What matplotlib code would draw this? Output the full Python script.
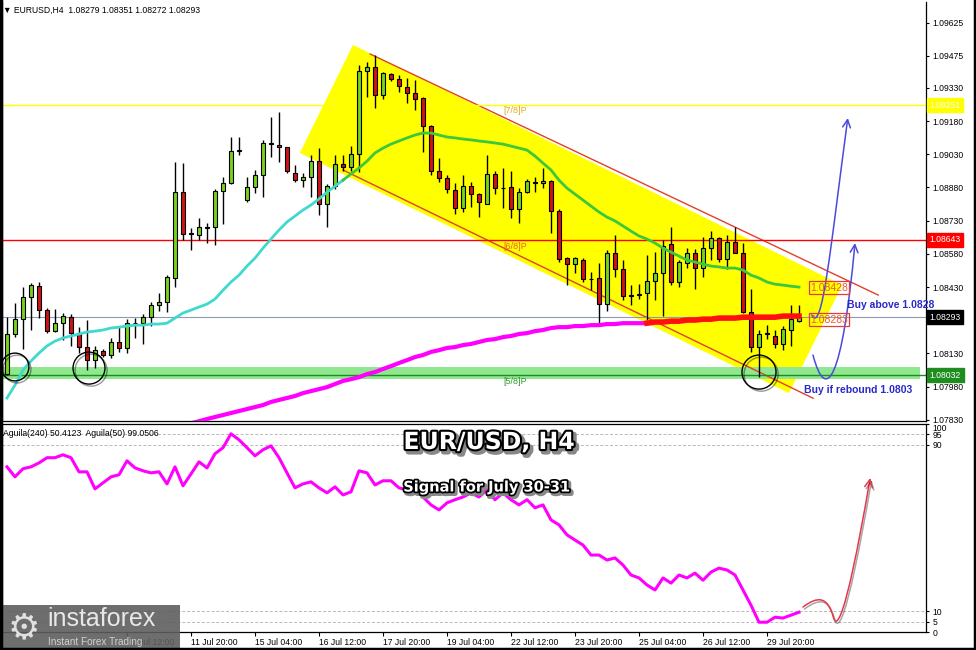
import matplotlib
matplotlib.use("Agg")
import matplotlib.pyplot as plt
import matplotlib.patheffects as pe
import matplotlib.transforms as mtransforms
from matplotlib.patches import Polygon, Rectangle, FancyArrowPatch
from matplotlib.path import Path
import numpy as np

plt.rcParams['font.family'] = ['Liberation Sans', 'DejaVu Sans']

# EURUSD H4 candles, 8 Jul 00:00 .. 30 Jul 12:00
opens = [1.08037, 1.08218, 1.08285, 1.08385, 1.08434, 1.08326, 1.08231, 1.08267, 1.08294, 1.08222,
         1.08159, 1.08100, 1.08141, 1.08123, 1.08182, 1.08155, 1.08267, 1.08267, 1.08294, 1.08349,
         1.08362, 1.08471, 1.08859, 1.08674, 1.08665, 1.08697, 1.08701, 1.08864, 1.08900, 1.09044,
         1.08823, 1.08882, 1.08936, 1.09081, 1.09072, 1.09063, 1.08945, 1.08913, 1.08927, 1.08999,
         1.08805, 1.08886, 1.08986, 1.08972, 1.09031, 1.09406, 1.09424, 1.09298, 1.09393, 1.09370,
         1.09334, 1.09307, 1.09284, 1.09157, 1.08954, 1.08922, 1.08868, 1.08787, 1.08886, 1.08850,
         1.08805, 1.08941, 1.08877, 1.08882, 1.08782, 1.08859, 1.08904, 1.08900, 1.08909, 1.08773,
         1.08561, 1.08534, 1.08552, 1.08466, 1.08471, 1.08353, 1.08584, 1.08511, 1.08389, 1.08392,
         1.08403, 1.08457, 1.08493, 1.08624, 1.08453, 1.08539, 1.08584, 1.08516, 1.08606, 1.08651,
         1.08557, 1.08633, 1.08584, 1.08317, 1.08159, 1.08218, 1.08209, 1.08173, 1.08236, 1.08279]
highs = [1.08294, 1.08358, 1.08430, 1.08448, 1.08453, 1.08335, 1.08331, 1.08313, 1.08308, 1.08249,
         1.08281, 1.08164, 1.08150, 1.08200, 1.08249, 1.08285, 1.08290, 1.08308, 1.08362, 1.08403,
         1.08484, 1.08995, 1.08990, 1.08697, 1.08742, 1.08719, 1.08873, 1.08927, 1.09108, 1.09108,
         1.08927, 1.08959, 1.09094, 1.09198, 1.09221, 1.09063, 1.08981, 1.08945, 1.09026, 1.09058,
         1.08895, 1.09026, 1.09026, 1.09067, 1.09433, 1.09447, 1.09479, 1.09402, 1.09397, 1.09388,
         1.09374, 1.09365, 1.09289, 1.09162, 1.09013, 1.08936, 1.08900, 1.08936, 1.08904, 1.08855,
         1.09026, 1.08954, 1.08968, 1.08954, 1.08877, 1.08918, 1.08927, 1.08968, 1.08913, 1.08782,
         1.08566, 1.08566, 1.08561, 1.08498, 1.08539, 1.08597, 1.08665, 1.08552, 1.08439, 1.08443,
         1.08575, 1.08588, 1.08642, 1.08701, 1.08552, 1.08606, 1.08602, 1.08656, 1.08683, 1.08656,
         1.08665, 1.08701, 1.08629, 1.08421, 1.08236, 1.08258, 1.08236, 1.08254, 1.08349, 1.08351]
lows = [1.08032, 1.08204, 1.08150, 1.08236, 1.08290, 1.08222, 1.08227, 1.08191, 1.08164, 1.08132,
        1.08055, 1.08064, 1.08114, 1.08109, 1.08137, 1.08132, 1.08200, 1.08173, 1.08254, 1.08322,
        1.08317, 1.08430, 1.08642, 1.08597, 1.08642, 1.08629, 1.08620, 1.08715, 1.08895, 1.09026,
        1.08814, 1.08855, 1.08837, 1.09017, 1.08995, 1.08945, 1.08904, 1.08882, 1.08837, 1.08755,
        1.08701, 1.08873, 1.08954, 1.08954, 1.08950, 1.09289, 1.09239, 1.09280, 1.09361, 1.09311,
        1.09261, 1.09230, 1.09040, 1.08936, 1.08904, 1.08855, 1.08760, 1.08769, 1.08791, 1.08746,
        1.08805, 1.08850, 1.08787, 1.08742, 1.08719, 1.08855, 1.08859, 1.08877, 1.08674, 1.08543,
        1.08439, 1.08493, 1.08453, 1.08416, 1.08258, 1.08322, 1.08475, 1.08371, 1.08349, 1.08376,
        1.08281, 1.08371, 1.08299, 1.08439, 1.08430, 1.08516, 1.08421, 1.08475, 1.08552, 1.08543,
        1.08511, 1.08584, 1.08313, 1.08137, 1.08023, 1.08195, 1.08155, 1.08145, 1.08164, 1.08272]
closes = [1.08218, 1.08285, 1.08385, 1.08439, 1.08326, 1.08231, 1.08267, 1.08299, 1.08222, 1.08159,
          1.08100, 1.08145, 1.08123, 1.08182, 1.08155, 1.08267, 1.08270, 1.08294, 1.08349, 1.08362,
          1.08475, 1.08859, 1.08670, 1.08670, 1.08701, 1.08701, 1.08864, 1.08900, 1.09044, 1.09049,
          1.08882, 1.08936, 1.09081, 1.09076, 1.09063, 1.08954, 1.08913, 1.08927, 1.08999, 1.08805,
          1.08886, 1.08986, 1.08972, 1.09031, 1.09406, 1.09424, 1.09298, 1.09397, 1.09370, 1.09338,
          1.09307, 1.09280, 1.09157, 1.08954, 1.08922, 1.08873, 1.08787, 1.08886, 1.08850, 1.08814,
          1.08941, 1.08877, 1.08877, 1.08782, 1.08859, 1.08909, 1.08900, 1.08909, 1.08773, 1.08557,
          1.08534, 1.08561, 1.08466, 1.08466, 1.08353, 1.08584, 1.08511, 1.08389, 1.08392, 1.08398,
          1.08457, 1.08493, 1.08615, 1.08453, 1.08543, 1.08584, 1.08516, 1.08606, 1.08651, 1.08557,
          1.08633, 1.08584, 1.08317, 1.08159, 1.08218, 1.08222, 1.08173, 1.08240, 1.08285, 1.08293]

# fast moving average (cyan, then green)
ma_fast = [1.07929, 1.07987, 1.08055, 1.08096, 1.08132, 1.08164, 1.08186, 1.08200, 1.08209, 1.08218,
           1.08227, 1.08231, 1.08236, 1.08245, 1.08249, 1.08254, 1.08258, 1.08258, 1.08263, 1.08263,
           1.08267, 1.08290, 1.08313, 1.08326, 1.08340, 1.08353, 1.08376, 1.08416, 1.08453, 1.08484,
           1.08525, 1.08561, 1.08606, 1.08647, 1.08688, 1.08724, 1.08751, 1.08778, 1.08801, 1.08828,
           1.08859, 1.08886, 1.08913, 1.08941, 1.08968, 1.08999, 1.09036, 1.09058, 1.09076, 1.09090,
           1.09104, 1.09117, 1.09126, 1.09126, 1.09117, 1.09108, 1.09104, 1.09099, 1.09095, 1.09090,
           1.09086, 1.09081, 1.09076, 1.09067, 1.09058, 1.09049, 1.09022, 1.08990, 1.08959, 1.08913,
           1.08877, 1.08850, 1.08823, 1.08796, 1.08769, 1.08746, 1.08729, 1.08706, 1.08683, 1.08661,
           1.08647, 1.08629, 1.08606, 1.08588, 1.08570, 1.08552, 1.08543, 1.08534, 1.08525, 1.08521,
           1.08516, 1.08516, 1.08507, 1.08484, 1.08471, 1.08453, 1.08443, 1.08439, 1.08434, 1.08430]

# slow moving average (magenta, red at the end), from bar 22
ma_slow_start = 22
ma_slow = [1.07797, 1.07806, 1.07815, 1.07824, 1.07834, 1.07843, 1.07852, 1.07861, 1.07870, 1.07879,
           1.07888, 1.07897, 1.07911, 1.07920, 1.07929, 1.07938, 1.07951, 1.07960, 1.07969, 1.07978,
           1.07992, 1.08006, 1.08014, 1.08023, 1.08037, 1.08046, 1.08060, 1.08073, 1.08087, 1.08100,
           1.08114, 1.08123, 1.08137, 1.08145, 1.08155, 1.08159, 1.08168, 1.08173, 1.08182, 1.08191,
           1.08195, 1.08204, 1.08209, 1.08218, 1.08222, 1.08231, 1.08236, 1.08245, 1.08249, 1.08249,
           1.08254, 1.08254, 1.08258, 1.08258, 1.08263, 1.08263, 1.08267, 1.08267, 1.08267, 1.08267,
           1.08272, 1.08272, 1.08276, 1.08276, 1.08281, 1.08281, 1.08285, 1.08285, 1.08290, 1.08290,
           1.08290, 1.08294, 1.08294, 1.08294, 1.08294, 1.08294, 1.08299, 1.08299, 1.08299]
ma_slow_red_from = 81

# Aguila oscillator (lower panel)
aguila = [79.4, 74.6, 78.5, 79.4, 81.3, 83.8, 83.8, 85.2, 83.8, 77.0,
          77.0, 68.8, 71.7, 74.6, 75.6, 82.3, 78.9, 77.5, 76.5, 77.0,
          71.2, 79.4, 70.3, 76.0, 81.8, 78.9, 85.7, 88.6, 95.3, 92.4,
          88.6, 84.7, 87.6, 89.5, 83.8, 76.5, 69.3, 71.2, 72.2, 69.3,
          66.9, 69.8, 65.9, 67.4, 77.5, 76.5, 70.7, 72.7, 72.7, 69.3,
          68.3, 70.7, 64.9, 61.1, 58.7, 62.1, 63.6, 64.9, 66.9, 64.9,
          68.3, 63.6, 66.9, 63.6, 61.1, 63.6, 59.7, 61.1, 53.9, 51.5,
          46.7, 44.2, 41.8, 37.0, 37.0, 34.6, 35.6, 32.2, 27.4, 26.0,
          22.6, 20.2, 26.0, 23.5, 27.4, 26.0, 28.3, 24.9, 28.8, 30.7,
          29.8, 27.4, 20.2, 12.9, 4.7, 4.7, 7.1, 6.7, 8.1, 9.5]

# 1.08280 sits under the last-price box, so it is left out
price_ticks = [1.09625, 1.09475, 1.09330, 1.09180, 1.09030, 1.08880, 1.08730,
               1.08580, 1.08430, 1.08130, 1.07980, 1.07830]
date_ticks = [16, 24, 32, 40, 48, 56, 64, 72, 80, 88, 96]
date_labels = ['10 Jul 12:00', '11 Jul 20:00', '15 Jul 04:00',
               '16 Jul 12:00', '17 Jul 20:00', '19 Jul 04:00', '22 Jul 12:00', '23 Jul 20:00',
               '25 Jul 04:00', '26 Jul 12:00', '29 Jul 20:00']
ind_ticks = [0, 5, 10, 90, 95, 100]
ind_levels = [5, 10, 90, 95]

# Murrey levels
level_prices = [1.09251, 1.08643, 1.08032]
level_colors = ['#ffff00', '#ff0000', '#1e8c1e']
level_names = ['[7/8]P', '[6/8]P', '[5/8]P']
level_name_colors = ['#e6a817', '#e8602a', '#2e9a2e']
band_low, band_high = 1.08014, 1.08068
last_price = 1.08293

# drawn objects (bar index, price)
channel_box = [(44.25, 1.09524), (105.4, 1.08439), (98.75, 1.07951), (37.6, 1.09036)]
channel_top = [(46.4, 1.09483), (109.9, 1.08394)]
channel_bottom = [(43.0, 1.08959), (101.75, 1.07928)]
circle_x = [2.0, 11.25, 95.0]
circle_y = [1.08069, 1.08064, 1.08046]
circle_size = [20, 23, 24.5]
arrow_up1 = [(101.6, 1.08304), (102.9, 1.08213), (103.9, 1.08597), (106.1, 1.09194)]
arrow_up2 = [(101.75, 1.08123), (103.4, 1.07897), (105.4, 1.08010), (107.0, 1.08629)]
arrow_ind = [(100.5, 12.0), (102.4, 17.5), (103.6, 17.0), (104.3, 7.0),
             (104.6, 2.7), (105.6, 0.0), (108.9, 74.1)]

W, H = 976, 650
bars = np.arange(1, len(closes) + 1)
o = np.array(opens)
c = np.array(closes)

fig = plt.figure(figsize=(W / 100, H / 100), dpi=100)
ax = fig.add_axes([2 / W, 1 - 421 / H, 924 / W, 419 / H])
ax2 = fig.add_axes([2 / W, 1 - 632 / H, 924 / W, 208 / H])

for a in (ax, ax2):
    a.set_xlim(0.375, 115.875)
    a.yaxis.tick_right()
    a.tick_params(axis='y', length=2.5, pad=2, labelsize=6.2, direction='out')
    for s in a.spines.values():
        s.set_linewidth(0.9)
ax.spines['top'].set_visible(False)
ax.set_ylim(1.07825, 1.09718)
ax.set_xticks([])
ax.set_yticks(price_ticks)
ax.set_yticklabels([f'{p:.5f}' for p in price_ticks])

# channel box and lines
ax.add_patch(Polygon(channel_box, closed=True, fc='#ffff00', ec='none', zorder=1))
for seg in (channel_top, channel_bottom):
    ax.plot([p[0] for p in seg], [p[1] for p in seg], color='#e0402a', lw=1, zorder=2)

# horizontal levels
ax.axhspan(band_low, band_high, xmin=0, xmax=918 / 924, color='#8fe88f', lw=0, zorder=1.5)
for lp, lc in zip(level_prices, level_colors):
    ax.axhline(lp, color=lc, lw=1, zorder=2)
ax.axhline(last_price, color='#8c9bb0', lw=0.8, zorder=2)
name_y = [1.09226, 1.08615, 1.08005]
for ny, nm, nc in zip(name_y, level_names, level_name_colors):
    ax.text(63.1, ny, nm, color=nc, fontsize=6.5, va='center', ha='left', zorder=3)

# candles
up = c >= o
body_lo = np.minimum(o, c)
body_h = np.maximum(np.abs(c - o), 0.00002)
ax.vlines(bars, lows, highs, color='black', lw=1, zorder=4)
ax.bar(bars, body_h, bottom=body_lo, width=0.62,
       color=np.where(up, '#78d21e', '#d01414'), edgecolor='black', lw=0.8, zorder=5)

# moving averages
ma_f = np.array(ma_fast)
ax.plot(bars[:43], ma_f[:43], color='#3fd9cf', lw=2, zorder=6)
ax.plot(bars[42:], ma_f[42:], color='#3cc83c', lw=2, zorder=6)
slow_x = np.arange(ma_slow_start, ma_slow_start + len(ma_slow))
ma_s = np.array(ma_slow)
k = ma_slow_red_from - ma_slow_start
ax.plot(slow_x[:k + 1], ma_s[:k + 1], color='#ff00ff', lw=3, zorder=6)
ax.plot(slow_x[k:], ma_s[k:], color='#ff1010', lw=4, zorder=6)

# circles
for cx, cy, cs in zip(circle_x, circle_y, circle_size):
    ax.plot(cx, cy, marker='o', ms=cs, mfc='none', mec='black', mew=1, ls='none', zorder=7,
            path_effects=[pe.SimpleLineShadow(offset=(1.5, -1.5), alpha=0.4), pe.Normal()])


def curve_arrow(a, pts, color, lw, shadow=False):
    codes = [Path.MOVETO] + [Path.CURVE4] * (len(pts) - 1)
    arr = FancyArrowPatch(path=Path(pts, codes), arrowstyle='->', mutation_scale=14,
                          color=color, lw=lw, transform=a.transData, zorder=9)
    if shadow:
        arr.set_path_effects([pe.SimpleLineShadow(offset=(1, -1.5), alpha=0.35), pe.Normal()])
    a.add_patch(arr)


curve_arrow(ax, arrow_up1, '#4a4ae0', 1.1)
curve_arrow(ax, arrow_up2, '#4a4ae0', 1.1)

# labels at the end of the averages
for lv in (1.08428, 1.08283):
    ax.text(101.4, lv, f'{lv:.5f}', fontsize=7.5, color='#f05a28', va='center', ha='left', zorder=10,
            bbox=dict(boxstyle='square,pad=0.12', fc='none', ec='#e03c3c', lw=0.9))

ax.text(106.0, 1.08349, 'Buy above 1.0828', fontsize=7.5, fontweight='bold', color='#2a2ac8',
        va='center', ha='left', zorder=10)
ax.text(100.6, 1.07965, 'Buy if rebound 1.0803', fontsize=7.5, fontweight='bold', color='#2a2ac8',
        va='center', ha='left', zorder=10)

# price boxes on the axis
trans = mtransforms.blended_transform_factory(ax.transAxes, ax.transData)
box_prices = [1.09251, 1.08643, last_price, 1.08032]
box_colors = ['#ffff00', '#ff0000', '#000000', '#1e8c1e']
for bp, bc in zip(box_prices, box_colors):
    ax.text(1.004, bp, f'{bp:.5f}', transform=trans, fontsize=6.2, color='white', va='center',
            ha='left', clip_on=False, zorder=20,
            bbox=dict(boxstyle='square,pad=0.3', fc=bc, ec=bc))

# indicator panel
ax2.set_ylim(0, 100)
ax2.set_yticks(ind_ticks)
ax2.set_yticklabels([str(t) for t in ind_ticks])
for lbl in ax2.get_yticklabels():
    if lbl.get_text() == '100':
        lbl.set_va('top')
for lv in ind_levels:
    ax2.axhline(lv, color='#b8b8b8', lw=0.7, ls=(0, (3, 2)), zorder=1)
ax2.plot(bars, aguila, color='#ff00ff', lw=2.2, zorder=3)
curve_arrow(ax2, arrow_ind, '#e8364a', 1.1, shadow=True)
ax2.set_xticks(date_ticks)
ax2.set_xticklabels(date_labels, fontsize=6.2, ha='left')
ax2.tick_params(axis='x', length=3, pad=1.5)

# texts
fig.text(3 / W, 1 - 10 / H, '\u25bc EURUSD,H4  1.08279 1.08351 1.08272 1.08293', fontsize=6.2,
         va='center', ha='left')
fig.text(3 / W, 1 - 433 / H, 'Aguila(240) 50.4123  Aguila(50) 99.0506', fontsize=6.2,
         va='center', ha='left')
fig.text(489 / W, 1 - 442 / H, 'EUR/USD, H4', fontsize=17, fontweight='bold', family='DejaVu Sans',
         color='white', ha='center', va='center', zorder=20,
         path_effects=[pe.Stroke(linewidth=4, foreground='#888888', offset=(2, -2)),
                       pe.Stroke(linewidth=3, foreground='black'), pe.Normal()])
fig.text(487 / W, 1 - 487 / H, 'Signal for July 30-31', fontsize=10.5, fontweight='bold',
         family='DejaVu Sans', color='white', ha='center', va='center', zorder=20,
         path_effects=[pe.Stroke(linewidth=3.5, foreground='#888888', offset=(1.5, -1.5)),
                       pe.Stroke(linewidth=2.5, foreground='black'), pe.Normal()])

# watermark logo
fig.add_artist(Rectangle((0, 0), 180 / W, 45 / H, transform=fig.transFigure, fc='#5e5e5e',
                         alpha=0.9, ec='none', zorder=30))
fig.text(24 / W, 1 - 628 / H, '\u2699', fontsize=26, color='#e0e0e0', ha='center', va='center',
         family='DejaVu Sans', zorder=31)
fig.text(47 / W, 1 - 619 / H, 'instaforex', fontsize=18, color='#e8e8e8', va='center', ha='left',
         zorder=31)
fig.text(48 / W, 1 - 642 / H, 'Instant Forex Trading', fontsize=7.2, color='#d0d0d0', va='center',
         ha='left', zorder=31)

# window border: left, bottom, right
for xs, ys in (([0.001, 0.001], [0, 1]), ([0, 1], [0.002, 0.002]), ([0.999, 0.999], [0, 1])):
    fig.add_artist(plt.Line2D(xs, ys, transform=fig.transFigure, color='black', lw=2.5, zorder=40))

fig.savefig('out.png', dpi=100)
